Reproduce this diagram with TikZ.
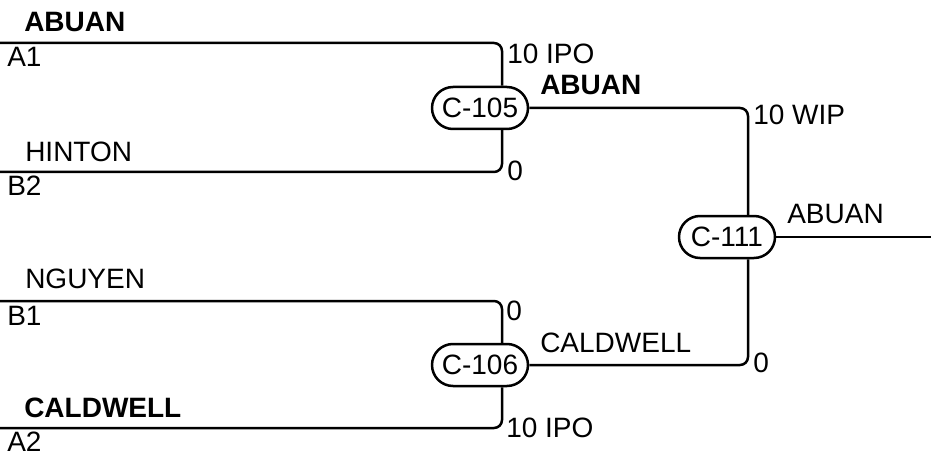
\documentclass[tikz,border=0pt]{standalone}
\usepackage{fontspec}
\setmainfont{Liberation Sans}
\usepackage{tikz}
\usetikzlibrary{calc,positioning}

\begin{document}
\begin{tikzpicture}[x=1pt,y=-1pt,line width=2.5pt,
	every node/.style={font=\fontsize{28}{33}\selectfont},
	gate/.style={draw,rounded corners=21pt,minimum width=96pt,minimum height=42pt,inner sep=0pt},
	tag/.style={anchor=base west,inner sep=0pt},
	wire/.style={rounded corners=8pt}]
	\useasboundingbox (0,0) rectangle (931,457);

	\node[gate] (c105) at (480,108) {C-105};
	\node[gate] (c106) at (480,365) {C-106};
	\node[gate] (c111) at (727,237) {C-111};

	\coordinate (a1) at (0,43);
	\coordinate (b2) at (0,172);
	\coordinate (b1) at (0,301);
	\coordinate (a2) at (0,428);
	\coordinate (out) at (931,237);

	\draw[wire] (a1) -| ([xshift=22pt]c105.north);
	\draw[wire] (b2) -| ([xshift=22pt]c105.south);
	\draw[wire] (b1) -| ([xshift=22pt]c106.north);
	\draw[wire] (a2) -| ([xshift=22pt]c106.south);
	\draw[wire] (c105.east) -| ([xshift=21pt]c111.north);
	\draw[wire] (c106.east) -| ([xshift=21pt]c111.south);
	\draw (c111.east) -- (out);

	% seeds and players
	\node[tag] (nameA1) at (23,32) {\textbf{ABUAN}};
	\node[tag] (seedA1) at (6,67) {A1};
	\node[tag] (nameB2) at (24,162) {HINTON};
	\node[tag] (seedB2) at (6,196) {B2};
	\node[tag] (nameB1) at (24,288) {NGUYEN};
	\node[tag] (seedB1) at (6,325) {B1};
	\node[tag] (nameA2) at (23,417) {\textbf{CALDWELL}};
	\node[tag] (seedA2) at (6,451) {A2};

	% scores and winners
	\node[tag] (scoreA1) at (506,64) {10 IPO};
	\node[tag] (scoreB2) at (506,181) {0};
	\node[tag] (win105) at (539,95) {\textbf{ABUAN}};
	\node[tag] (scoreB1) at (505,320) {0};
	\node[tag] (scoreA2) at (505,437) {10 IPO};
	\node[tag] (win106) at (539,352) {CALDWELL};
	\node[tag] (score105) at (752,125) {10 WIP};
	\node[tag] (score106) at (752,372) {0};
	\node[tag] (win111) at (786,223) {ABUAN};
\end{tikzpicture}
\end{document}
